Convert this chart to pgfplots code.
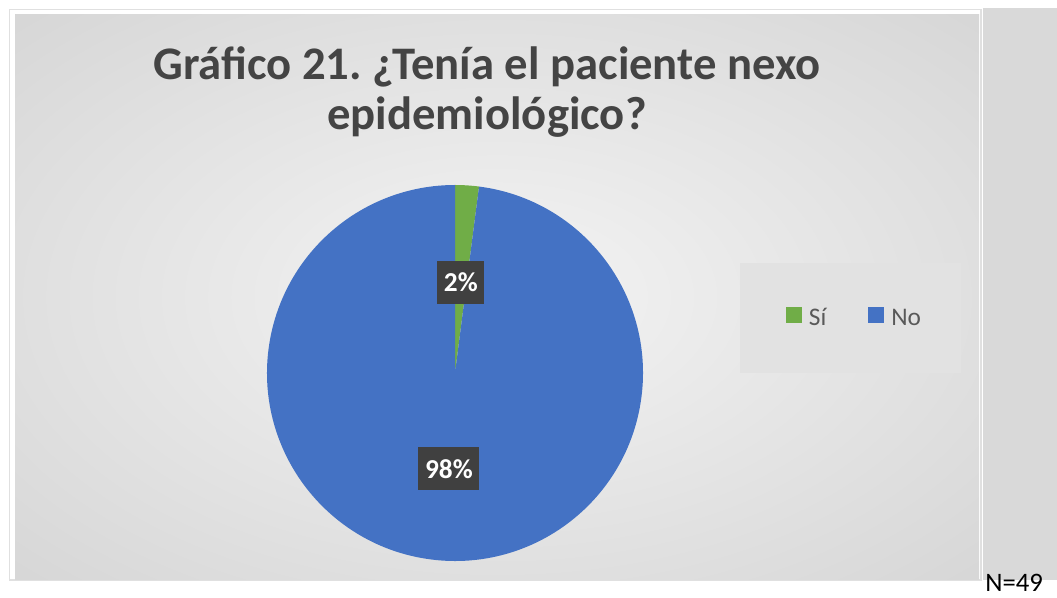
\documentclass[border=0pt]{standalone}
\usepackage{pgfplots}
\pgfplotsset{compat=1.18}
\usepackage{pgfplotstable}
\usepackage{fontspec}
\setmainfont{Carlito}
\frenchspacing
\definecolor{sicol}{HTML}{70AD47}
\definecolor{nocol}{HTML}{4472C4}
\definecolor{titlecol}{HTML}{444444}
\definecolor{legtext}{HTML}{595959}
\definecolor{labelbg}{HTML}{404040}
\definecolor{bginner}{HTML}{F4F4F4}
\definecolor{bgouter}{HTML}{B8B8B8}
\definecolor{stripcol}{HTML}{D9D9D9}
\definecolor{legbg}{HTML}{E2E2E2}
\pgfdeclareradialshading{bgshade}{\pgfpoint{0bp}{0bp}}{color(0bp)=(bginner); color(72bp)=(bgouter)}

\pgfplotstableread[col sep=space]{
label count pct
Si 1 2
No 48 98
}\piedata

\begin{document}
\begin{tikzpicture}
\pgfplotstablegetelem{0}{count}\of\piedata \edef\ca{\pgfplotsretval}
\pgfplotstablegetelem{1}{count}\of\piedata \edef\cb{\pgfplotsretval}
\pgfplotstablegetelem{0}{pct}\of\piedata \edef\pa{\pgfplotsretval}
\pgfplotstablegetelem{1}{pct}\of\piedata \edef\pb{\pgfplotsretval}
\pgfmathsetmacro{\total}{\ca+\cb}
\pgfmathsetmacro{\angA}{90-360*\ca/\total}
\pgfmathsetmacro{\midA}{(90+\angA)/2}
\pgfmathsetmacro{\midB}{(\angA-270)/2}
\begin{axis}[
  scale only axis, width=792.75pt, height=448.5pt,
  xmin=0, xmax=1057, ymin=0, ymax=598, y dir=reverse,
  hide axis, clip=false,
  legend columns=2,
  legend style={at={(0.811,0.468)}, anchor=center, draw=none, fill=none,
    font=\fontsize{19}{22}\selectfont, text=legtext,
    /tikz/every even column/.append style={column sep=26pt},
    nodes={inner xsep=5.5pt}},
]
\fill[white] (axis cs:0,0) rectangle (axis cs:1057,598);
\draw[line width=1.2pt, draw=black!12] (axis cs:9.5,9.5) rectangle (axis cs:981,580);
\fill[stripcol] (axis cs:983,8) rectangle (axis cs:1057,580);
\shade[shading=bgshade] (axis cs:15,15) rectangle (axis cs:979,579);
\fill[legbg] (axis cs:740,263) rectangle (axis cs:961,373);
% pie
\fill[sicol] (axis cs:455,373) -- ++(90:141pt) arc[start angle=90, end angle=\angA, radius=141pt] -- cycle;
\fill[nocol] (axis cs:455,373) -- ++(\angA:141pt) arc[start angle=\angA, end angle=-270, radius=141pt] -- cycle;
\path (axis cs:455,373) ++(\midA:68pt) node[fill=labelbg, text=white, font=\bfseries\fontsize{20.5}{24}\selectfont, inner xsep=5pt, minimum height=32pt] {\pa\%};
\path (axis cs:455,373) ++(\midB:72pt) node[fill=labelbg, text=white, font=\bfseries\fontsize{20.5}{24}\selectfont, inner xsep=5pt, minimum height=32pt] {\pb\%};
% title
\node[anchor=base, text=titlecol, font=\bfseries\fontsize{35}{40}\selectfont] at (axis cs:487,80) {Gráfico 21. ¿Tenía el paciente nexo};
\node[anchor=base, text=titlecol, font=\bfseries\fontsize{35}{40}\selectfont] at (axis cs:487,130) {epidemiológico?};
% N
\node[anchor=base west, inner sep=0pt, font=\fontsize{20}{24}\selectfont] at (axis cs:985,591) {N=49};
\addlegendimage{legend image code/.code={\fill[sicol] (0pt,-3pt) rectangle (11.25pt,8.25pt);}}
\addlegendentry{Sí}
\addlegendimage{legend image code/.code={\fill[nocol] (0pt,-3pt) rectangle (11.25pt,8.25pt);}}
\addlegendentry{No}
\end{axis}
\end{tikzpicture}
\end{document}
